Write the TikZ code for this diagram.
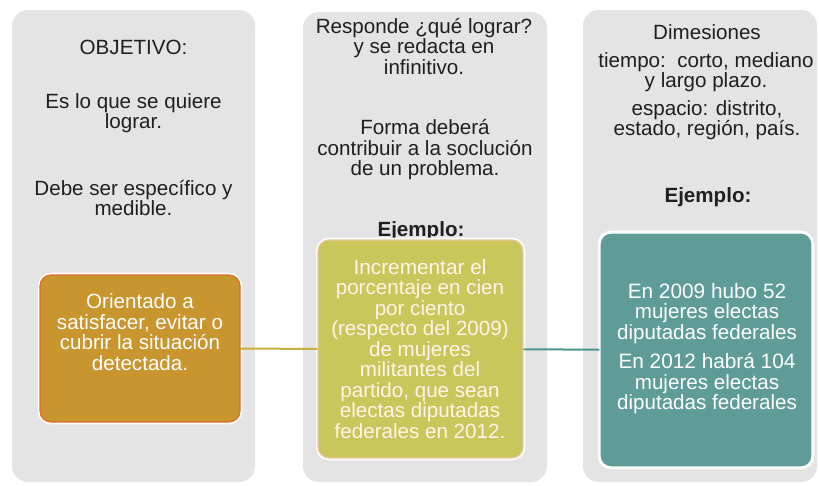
\documentclass[tikz,border=0pt]{standalone}
\usepackage{fontspec}
\setmainfont{Liberation Sans}
\usetikzlibrary{positioning}

\definecolor{panelgray}{HTML}{E4E4E4}
\definecolor{orangefill}{HTML}{C9952F}
\definecolor{orangeline}{HTML}{DE6C2A}
\definecolor{olivefill}{HTML}{C9C65C}
\definecolor{oliveline}{HTML}{E9C9A0}
\definecolor{tealfill}{HTML}{5F9C98}
\definecolor{goldlink}{HTML}{C8AE3C}
\definecolor{teallink}{HTML}{4E9390}

\begin{document}
\begin{tikzpicture}[x=1pt, y=-1pt, every node/.style={inner sep=0pt, align=center, text=black!88}]
\useasboundingbox (0,0) rectangle (819,486);

\fontsize{20.6}{20.5}\selectfont

\begin{scope}[every node/.style={rectangle, rounded corners=16pt, fill=panelgray, inner sep=0pt}]
\node[minimum width=243, minimum height=472] (P1) at (133.5,246) {};
\node[minimum width=244, minimum height=470] (P2) at (425,247) {};
\node[minimum width=234, minimum height=472] (P3) at (700,246) {};
\end{scope}

% texto de los paneles
\node (obj) at (133.5,47) {OBJETIVO:};
\node (quiere) at (133.5,113) {Es lo que se quiere\\lograr.};
\node (debe) at (133.5,198) {Debe ser específico y\\medible.};

\node (responde) at (424,46.5) {Responde ¿qué lograr?\\y se redacta en\\infinitivo.};
\node (forma) at (425,150) {Forma deberá\\contribuir a la soclución\\de un problema.};
\node[font=\bfseries] (ej2) at (421,231) {Ejemplo:};

\node (dim) at (707,32) {Dimesiones};
\node (tiempo) at (706,72) {tiempo:\ \ corto, mediano\\y largo plazo.};
\node (espacio) at (707,120) {espacio: distrito,\\estado, región, país.};
\node[font=\bfseries] (ej3) at (708,197) {Ejemplo:};

% cajas de color
\begin{scope}[every node/.style={rectangle, rounded corners=11pt, inner sep=0pt, line width=1.2pt, preaction={draw=white, line width=4.5pt}}]
\node[fill=orangefill, draw=orangeline, minimum width=200, minimum height=147] (B1) at (140,348.5) {};
\node[fill=olivefill, draw=oliveline, minimum width=205, minimum height=218] (B2) at (420.5,349) {};
\node[fill=tealfill, draw=white, minimum width=212, minimum height=234] (B3) at (706,350) {};
\end{scope}

\draw[goldlink, line width=2pt] (B1) -- (B2);
\draw[teallink, line width=2pt] (B2) -- (B3);

\begin{scope}[every node/.style={inner sep=0pt, align=center, text=white}]
\node (orientado) at (140,332) {Orientado a\\satisfacer, evitar o\\cubrir la situación\\detectada.};
\node[text=white!92!orange] (incrementar) at (420,349) {\fontsize{20.8}{21.6}\selectfont Incrementar el\\porcentaje en cien\\por ciento\\(respecto del 2009)\\de mujeres\\militantes del\\partido, que sean\\electas diputadas\\federales en 2012.};
\node (hubo) at (707,313.5) {\fontsize{20.8}{21.6}\selectfont En 2009 hubo 52\\mujeres electas\\diputadas federales};
\node (habra) at (707,383.5) {\fontsize{20.8}{21.6}\selectfont En 2012 habrá 104\\mujeres electas\\diputadas federales};
\end{scope}

\end{tikzpicture}
\end{document}
